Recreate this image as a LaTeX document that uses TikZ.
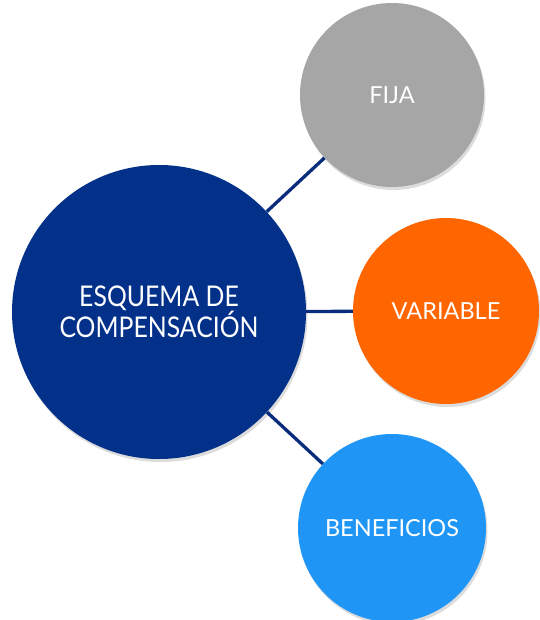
\documentclass[tikz,border=0pt]{standalone}
\usepackage{fontspec}
\setmainfont{Lato}
\newfontfamily\mainlabel[FakeStretch=0.87]{Lato}
\usetikzlibrary{shadows}
\definecolor{navy}{HTML}{03318A}
\definecolor{linkblue}{HTML}{0A2C7C}
\definecolor{fijagray}{HTML}{A6A6A6}
\definecolor{varorange}{HTML}{FF6600}
\definecolor{benblue}{HTML}{1F96F5}
\tikzset{
  bubble/.style={circle, inner sep=0pt, text=white,
    drop shadow={opacity=0.28, shadow xshift=1.5pt, shadow yshift=-3pt}},
  smalllabel/.style={font=\fontsize{23.5}{27}\selectfont},
  link/.style={draw=linkblue, line width=3.3pt}
}
\begin{document}
\begin{tikzpicture}[x=1pt,y=-1pt]
\useasboundingbox (0,0) rectangle (539,620);
\node[bubble, fill=navy, minimum size=294pt, font=\mainlabel\fontsize{28.5}{31}\selectfont, align=center] (main) at (159,312) {ESQUEMA DE\\COMPENSACIÓN};
\node[bubble, smalllabel, fill=fijagray, minimum size=184pt] (fija) at (392,95) {FIJA};
\node[bubble, smalllabel, fill=varorange, minimum size=186pt] (var) at (446,311) {VARIABLE};
\node[bubble, smalllabel, fill=benblue, minimum size=188pt] (ben) at (392,528) {BENEFICIOS};
\draw[link] (main) -- (fija);
\draw[link] (main) -- (var);
\draw[link] (main) -- (ben);
\end{tikzpicture}
\end{document}
